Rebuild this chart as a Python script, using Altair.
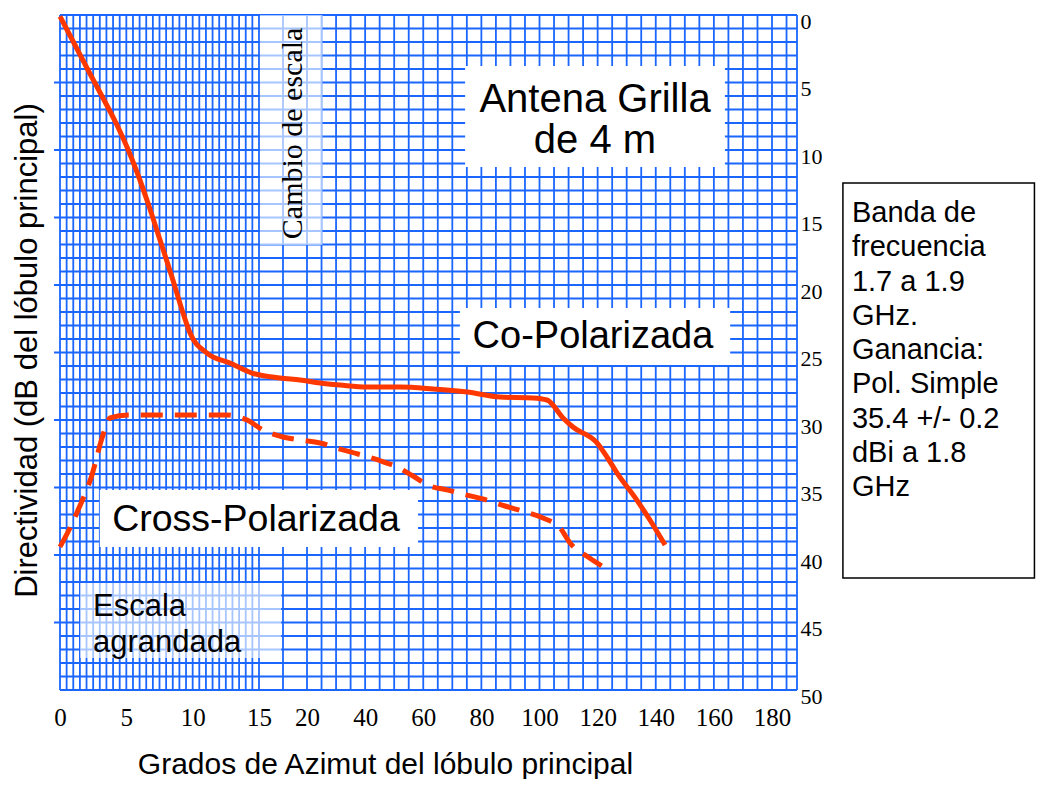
import altair as alt
import pandas as pd

# ---------------- data ----------------
# Co-polarized pattern (solid line): azimuth (deg) vs attenuation (dB)
co_az = [0, 1.13, 2.19, 3.24, 4.22, 5.05, 5.80, 6.63, 7.54, 8.44,
         9.20, 9.80, 11.08, 12.81, 14.47, 17.19, 19.27, 24.5, 31.4, 40.7,
         52.0, 63.4, 75.1, 86.4, 97.8, 102.6, 108.1, 111.5, 119.8, 123.2,
         126.7, 133.5, 138.0, 143.2]
co_db = [0.1, 2.22, 4.22, 6.15, 8.00, 9.78, 11.63, 13.93, 16.67, 19.41,
         21.85, 23.56, 25.04, 25.78, 26.52, 26.89, 27.04, 27.26, 27.41, 27.56,
         27.56, 27.70, 27.93, 28.30, 28.37, 28.52, 29.85, 30.52, 31.70, 32.74,
         33.93, 35.93, 37.41, 39.26]

# Cross-polarized pattern (dashed line)
cx_az = [0, 0.75, 1.36, 2.41, 3.17, 3.77, 5.13, 12.59, 14.10, 15.42,
         17.5, 19.27, 24.47, 31.36, 37.55, 44.43, 50.97, 56.48, 62.33, 68.52,
         75.06, 81.94, 88.14, 95.02, 101.2, 107.1, 110.5, 116.7, 122.6]
cx_db = [39.4, 38.0, 36.67, 34.07, 31.33, 29.85, 29.63, 29.63, 30.0, 30.74,
         31.26, 31.48, 31.70, 32.15, 32.52, 32.96, 33.48, 34.15, 34.89, 35.19,
         35.56, 35.93, 36.37, 36.81, 37.26, 38.0, 39.11, 40.15, 40.96]

x_ticks = [0, 5, 10, 15, 20, 40, 60, 80, 100, 120, 140, 160, 180]
y_ticks = [0, 5, 10, 15, 20, 25, 30, 35, 40, 45, 50]

info_lines = ["Banda de", "frecuencia", "1.7 a 1.9", "GHz.", "Ganancia:",
              "Pol. Simple", "35.4 +/- 0.2", "dBi a 1.8", "GHz"]

# ---------------- scales (scale changes after 15 deg) ----------------
W, H = 737, 675
X_END = 188.6
xs = alt.Scale(domain=[0, 15, 20, X_END], range=[0, 199, 247, W], nice=False, zero=False)
ys = alt.Scale(domain=[0, 50], reverse=True, nice=False, zero=False)

GRID = "#1a66ff"
RED = "#ff3800"
SANS = "Liberation Sans"
SERIF = "Liberation Serif"

AX = alt.Axis(
    orient="bottom", values=x_ticks, ticks=False, domain=False, grid=False,
    labelFont=SERIF, labelFontSize=25, labelColor="black", labelPadding=15,
    labelFlush=False, labelOverlap=False,
    title="Grados de Azimut del lóbulo principal", titleFont=SANS,
    titleFontSize=30, titleFontWeight="normal", titleColor="black",
    titleX=325, titleY=83, titleBaseline="alphabetic", titleAlign="center")

AY = alt.Axis(
    orient="right", values=y_ticks, ticks=False, domain=False, grid=False,
    labelFont=SERIF, labelFontSize=22, labelColor="black", labelPadding=3,
    labelOffset=6,
    title="Directividad (dB del lóbulo principal)", titleFont=SANS,
    titleFontSize=31, titleFontWeight="normal", titleColor="black",
    titleAngle=270, titleX=-770, titleY=335, titleBaseline="middle",
    titleAlign="center")

grid_x = [i * 0.5 for i in range(31)] + [17.5] + list(range(20, 186, 5)) + [X_END]
grid_y = list(range(0, 51))


def X(field="x"):
    return alt.X(f"{field}:Q", scale=xs, axis=AX)


def Y(field="y"):
    return alt.Y(f"{field}:Q", scale=ys, axis=AY)


hgrid = alt.Chart(pd.DataFrame({"y": grid_y})).mark_rule(
    color=GRID, strokeWidth=1.8).encode(y=Y())

vgrid = alt.Chart(pd.DataFrame({"x": grid_x})).mark_rule(
    color=GRID, strokeWidth=1.8).encode(x=X())

left_ticks = alt.Chart(pd.DataFrame({
    "y": [5, 10, 15, 20, 25, 30, 35, 40, 45],
    "x": [-0.45] * 9, "x2": [0] * 9})).mark_rule(
    color=GRID, strokeWidth=2).encode(y=Y(), x=X(), x2="x2")

# annotation boxes (data coordinates)
boxes_solid = pd.DataFrame({
    "x": [74.4, 72.6, 3.0], "x2": [163.8, 165.6, 58.2],
    "y": [3.78, 21.7, 35.19], "y2": [11.26, 25.93, 39.41]})
boxes_soft = pd.DataFrame({
    "x": [15.1, 1.51], "x2": [25.3, 17.3],
    "y": [0.0, 42.07], "y2": [17.04, 47.63]})
box_info = pd.DataFrame({"x": [204.4], "x2": [270.3], "y": [12.44], "y2": [41.7]})

r_solid = alt.Chart(boxes_solid).mark_rect(color="white", opacity=1).encode(
    x=X(), x2="x2", y=Y(), y2="y2")
r_soft = alt.Chart(boxes_soft).mark_rect(color="white", opacity=0.62).encode(
    x=X(), x2="x2", y=Y(), y2="y2")
r_info = alt.Chart(box_info).mark_rect(fill="white", stroke="black", strokeWidth=1.5).encode(
    x=X(), x2="x2", y=Y(), y2="y2")

co_line = alt.Chart(pd.DataFrame({"x": co_az, "y": co_db})).mark_line(
    color=RED, strokeWidth=5, interpolate="monotone", clip=False
).encode(x=X(), y=Y())

cx_line = alt.Chart(pd.DataFrame({"x": cx_az, "y": cx_db})).mark_line(
    color=RED, strokeWidth=5, strokeDash=[22, 12], interpolate="monotone", clip=False
).encode(x=X(), y=Y())


def label(txt, x, y, **kw):
    return alt.Chart(pd.DataFrame({"x": [x], "y": [y]})).mark_text(
        text=txt, color="black", **kw).encode(x=X(), y=Y())


# for multi-line labels, y is the centre of the first line
t_antena = label(["Antena Grilla", "de 4 m"], 119.1, 6.30, font=SANS, fontSize=40,
                 lineHeight=41, align="center", baseline="middle")
t_co = label("Co-Polarizada", 118.4, 23.85, font=SANS, fontSize=38,
             align="center", baseline="middle")
t_cross = label("Cross-Polarizada", 14.77, 37.4, font=SANS, fontSize=37.5,
                align="center", baseline="middle")
t_escala = label(["Escala", "agrandada"], 2.49, 43.85, font=SANS, fontSize=31,
                 lineHeight=36, align="left", baseline="middle")
t_cambio = label("Cambio de escala", 18.54, 8.77, font=SERIF, fontSize=30,
                 angle=270, align="center", baseline="middle")
t_info = label(info_lines, 207.5, 14.67, font=SANS, fontSize=29, lineHeight=34.25,
               align="left", baseline="middle")

chart = alt.layer(
    hgrid, vgrid, left_ticks, r_soft, r_solid, r_info,
    co_line, cx_line,
    t_antena, t_co, t_cross, t_escala, t_cambio, t_info
).properties(
    width=W, height=H,
    autosize=alt.AutoSizeParams(type="none"),
    padding={"left": 52, "top": 7, "right": 240, "bottom": 89},
    background="white",
).configure_view(strokeWidth=0)

chart.save("out.html", embed_options={"renderer": "svg", "actions": False})
